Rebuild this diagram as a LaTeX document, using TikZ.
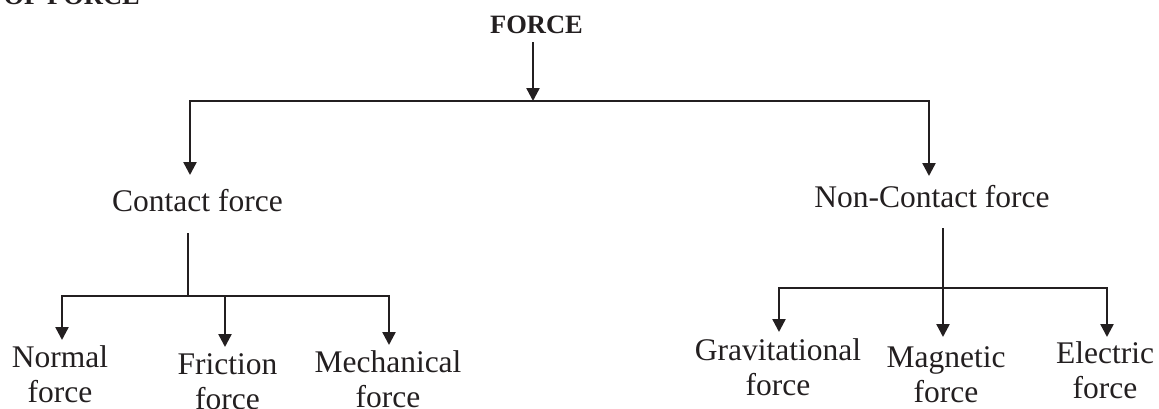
\documentclass[tikz,border=0pt]{standalone}
\usepackage{fontspec}
\setmainfont{Liberation Serif}
\usetikzlibrary{arrows.meta}
\definecolor{ink}{HTML}{231F20}
\begin{document}
\begin{tikzpicture}[x=1pt,y=-1pt,
  conn/.style={draw=ink,line width=2.4pt,line join=miter},
  arr/.style={conn,-{Triangle[length=13pt,width=13pt]}},
  lbl/.style={text=ink,inner sep=0pt,anchor=base,align=center,
    font=\fontsize{31.5}{35}\selectfont},
  head/.style={text=ink,inner sep=0pt,anchor=base,
    font=\fontsize{26.5}{30}\selectfont\bfseries}]
\useasboundingbox (0,0) rectangle (1159,408);
\begin{scope}
\clip (0,0) rectangle (1159,408);
\node[head,anchor=base east] (frag) at (140,4) {OF FORCE};
\end{scope}
% root
\node[head] (force) at (536.5,33) {FORCE};
\coordinate (j0) at (533,101);
\coordinate (ca) at (190,175);
\coordinate (na) at (929,176);
\draw[arr] ([yshift=-9pt]force.south -| j0) -- (j0);
\draw[arr] (j0) -| (ca);
\draw[arr] (j0) -| (na);
% second level
\node[lbl] (contact) at (197.5,211) {Contact force};
\node[lbl] (noncontact) at (932,207) {Non-Contact force};
% contact branch
\coordinate (cs) at (188,233);
\coordinate (cj) at (188,296);
\coordinate (t1) at (62,340);
\coordinate (t2) at (225,347);
\coordinate (t3) at (389,345);
\draw[conn] (cs) -- (cj);
\draw[arr] (cj) -| (t1);
\draw[arr] (cj) -| (t3);
\draw[arr] (cj -| t2) -- (t2);
\node[lbl] (normal) at (60,402) {Normal\\force};
\node[lbl] (friction) at (227.5,409) {Friction\\force};
\node[lbl] (mech) at (388,407) {Mechanical\\force};
% non-contact branch
\coordinate (ns) at (943,228);
\coordinate (nj) at (943,288);
\coordinate (u1) at (779,332);
\coordinate (u2) at (943,337);
\coordinate (u3) at (1107,337);
\draw[conn] (ns) -- (nj);
\draw[arr] (nj) -| (u1);
\draw[arr] (nj) -| (u3);
\draw[arr] (nj) -- (u2);
\node[lbl] (grav) at (778,395) {Gravitational\\force};
\node[lbl] (magn) at (946,402) {Magnetic\\force};
\node[lbl] (elec) at (1105,398) {Electric\\force};
\end{tikzpicture}
\end{document}
